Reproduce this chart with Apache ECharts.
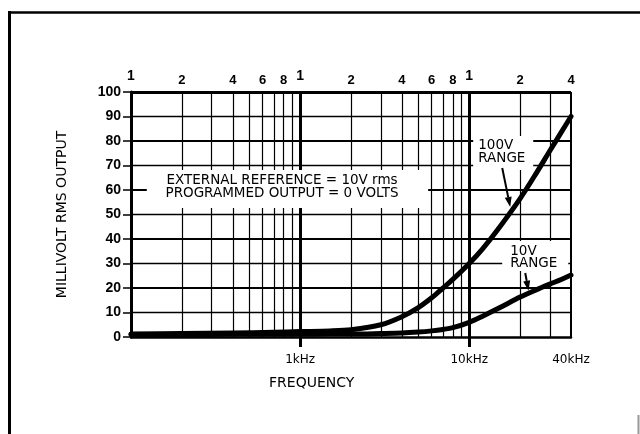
<!DOCTYPE html>
<html><head><meta charset="utf-8">
<script src="https://cdn.jsdelivr.net/npm/echarts@6/dist/echarts.min.js"></script>
<style>html,body{margin:0;padding:0;background:#fff}#c{width:640px;height:434px}</style>
</head><body><div id="c"></div>
<script>
// ---- data ----
const freqs     = [100,200,400,700,1000,1500,2000,3000,4000,5000,6000,7000,8000,10000,12000,15000,20000,25000,30000,35000,40000];
const range100V = [1.2,1.4,1.6,1.9,2.2,2.5,3.0,5.0,8.3,12,16,20,23.5,30,36,44.5,56.5,67,76,83.5,90];
const range10V  = [1.0,1.0,1.1,1.1,1.1,1.2,1.2,1.4,1.6,2.0,2.5,3.1,3.8,6.0,8.5,11.8,16.3,19.3,21.6,23.5,25.3];

const topTickValues = [100,200,400,600,800,1000,2000,4000,6000,8000,10000,20000,40000];
const topTickLabels = ['1','2','4','6','8','1','2','4','6','8','1','2','4'];
const bottomTickValues = [1000,10000,40000];
const bottomTickLabels = ['1kHz','10kHz','40kHz'];
const minorFreqLines = [200,300,400,500,600,700,800,900,2000,3000,4000,5000,6000,7000,8000,9000,20000,30000];
const decadeFreqLines = [1000,10000];
const valueLines = [10,20,30,40,50,60,70,80,90,100];

const yAxisTitle = 'MILLIVOLT RMS OUTPUT';
const xAxisTitle = 'FREQUENCY';
const noteLines = ['EXTERNAL REFERENCE = 10V rms','PROGRAMMED OUTPUT = 0 VOLTS'];
const label100 = ['100V','RANGE'];
const label10 = ['10V','RANGE'];

// ---- chart ----
const FONT = 'Liberation Sans';
const WIDE = 'DejaVu Sans';
const chart = echarts.init(document.getElementById('c'));

function findLabel(vals, labels, v) {
  const i = vals.findIndex(t => Math.abs(t - v) <= t * 1e-3);
  return i >= 0 ? labels[i] : '';
}

const gridLines = [];
minorFreqLines.forEach(f => gridLines.push({xAxis: f, lineStyle: {width: 1.2}}));
decadeFreqLines.forEach(f => gridLines.push({xAxis: f, lineStyle: {width: 3}}));
gridLines.push({xAxis: 40000, lineStyle: {width: 2}});
valueLines.forEach(v => gridLines.push({yAxis: v, lineStyle: {width: v === 100 ? 3 : (v % 20 === 0 ? 2.2 : 1.3)}}));

chart.setOption({
  animation: false,
  backgroundColor: '#fff',
  grid: {left: 131, right: 69, top: 92, bottom: 97},
  xAxis: [{
    type: 'log', logBase: 10, min: 100, max: 40000, position: 'bottom',
    axisLine: {show: true, lineStyle: {color: '#000', width: 2.5}},
    axisTick: {show: true, customValues: decadeFreqLines, length: 10, lineStyle: {color: '#000', width: 3}},
    axisLabel: {customValues: bottomTickValues, margin: 17, fontFamily: WIDE, fontSize: 12, color: '#000',
      formatter: v => findLabel(bottomTickValues, bottomTickLabels, v)},
    splitLine: {show: false}, minorTick: {show: false}
  }, {
    type: 'log', logBase: 10, min: 100, max: 40000, position: 'top',
    axisLine: {show: false}, axisTick: {show: false}, splitLine: {show: false},
    axisLabel: {customValues: topTickValues, margin: 5, fontFamily: FONT, fontWeight: 'bold', fontSize: 13, color: '#000',
      formatter: v => { const s = findLabel(topTickValues, topTickLabels, v); return s === '1' ? '{one|1}' : s; },
      rich: {one: {fontFamily: FONT, fontWeight: 'bold', fontSize: 14, color: '#000', padding: [0, 0, 4, 0]}}}
  }],
  yAxis: {
    type: 'value', min: 0, max: 100, interval: 10,
    name: yAxisTitle, nameLocation: 'middle', nameRotate: 90, nameGap: 62,
    nameTextStyle: {fontFamily: WIDE, fontSize: 14, color: '#000'},
    axisLine: {show: true, lineStyle: {color: '#000', width: 3}},
    axisTick: {show: true, length: 8, lineStyle: {color: '#000', width: 1.5}},
    axisLabel: {margin: 10, fontFamily: FONT, fontWeight: 'bold', fontSize: 14, color: '#000'},
    splitLine: {show: false}
  },
  series: [{
    name: '100V RANGE', type: 'line', smooth: 0.3, showSymbol: false, silent: true,
    data: freqs.map((f, i) => [f, range100V[i]]),
    lineStyle: {color: '#000', width: 5, join: 'round', cap: 'round'}, itemStyle: {color: '#000'},
    markLine: {silent: true, symbol: ['none', 'none'], label: {show: false},
      lineStyle: {color: '#000', type: 'solid'}, emphasis: {disabled: true}, data: gridLines}
  }, {
    name: '10V RANGE', type: 'line', smooth: 0.3, showSymbol: false, silent: true,
    data: freqs.map((f, i) => [f, range10V[i]]),
    lineStyle: {color: '#000', width: 5, join: 'round', cap: 'round'}, itemStyle: {color: '#000'}
  }]
});

// ---- annotations positioned through the chart's own scales ----
const P = (f, v) => chart.convertToPixel({xAxisIndex: 0, yAxisIndex: 0}, [f, v]);
function box(f0, v0, f1, v1) {
  const a = P(f0, v0), b = P(f1, v1);
  return {type: 'rect', z: 50, shape: {x: Math.min(a[0], b[0]), y: Math.min(a[1], b[1]),
    width: Math.abs(b[0] - a[0]), height: Math.abs(b[1] - a[1])}, style: {fill: '#fff'}};
}
function text(str, f, v, align, size) {
  const p = P(f, v);
  return {type: 'text', z: 60, x: p[0], y: p[1], style: {text: str, fontFamily: WIDE, fontSize: size || 14,
    fill: '#000', align: align, verticalAlign: 'middle'}};
}
function arrow(f0, v0, f1, v1) {
  const [x1, y1] = P(f0, v0), [x2, y2] = P(f1, v1);
  const dx = x2 - x1, dy = y2 - y1, L = Math.hypot(dx, dy), ux = dx / L, uy = dy / L;
  const hl = 10, hw = 3.5, bx = x2 - ux * hl, by = y2 - uy * hl;
  return [
    {type: 'line', z: 60, shape: {x1: x1, y1: y1, x2: bx, y2: by}, style: {stroke: '#000', lineWidth: 2}},
    {type: 'polygon', z: 60, shape: {points: [[x2, y2], [bx - uy * hw, by + ux * hw], [bx + uy * hw, by - ux * hw]]}, style: {fill: '#000'}}
  ];
}

const graphics = [
  // outer frame of the scanned page
  {type: 'line', shape: {x1: 9.5, y1: 11, x2: 9.5, y2: 434}, style: {stroke: '#000', lineWidth: 3}},
  {type: 'line', shape: {x1: 8, y1: 12.5, x2: 640, y2: 12.5}, style: {stroke: '#000', lineWidth: 2.5}},
  {type: 'line', shape: {x1: 638.5, y1: 415, x2: 638.5, y2: 434}, style: {stroke: '#999', lineWidth: 2}},
  {type: 'text', left: 269, top: 376, style: {text: xAxisTitle, fontFamily: WIDE, fontSize: 14, fill: '#000'}},
  box(124, 68.2, 5718, 52.7),
  text(noteLines[0], 782, 63.7, 'center', 13.5),
  text(noteLines[1], 782, 58.4, 'center', 13.5),
  box(10560, 82, 23910, 68.2),
  text(label100[0], 11310, 78.0, 'left', 13.5),
  text(label100[1], 11310, 72.7, 'left', 13.5),
  ...arrow(15680, 69.0, 17480, 53.1),
  box(15680, 39.2, 38530, 26.9),
  text(label10[0], 17480, 35.1, 'left', 13.5),
  text(label10[1], 17480, 29.8, 'left', 13.5),
  ...arrow(21450, 26.1, 22430, 18.9)
];
chart.setOption({graphic: graphics});
</script>
</body></html>
